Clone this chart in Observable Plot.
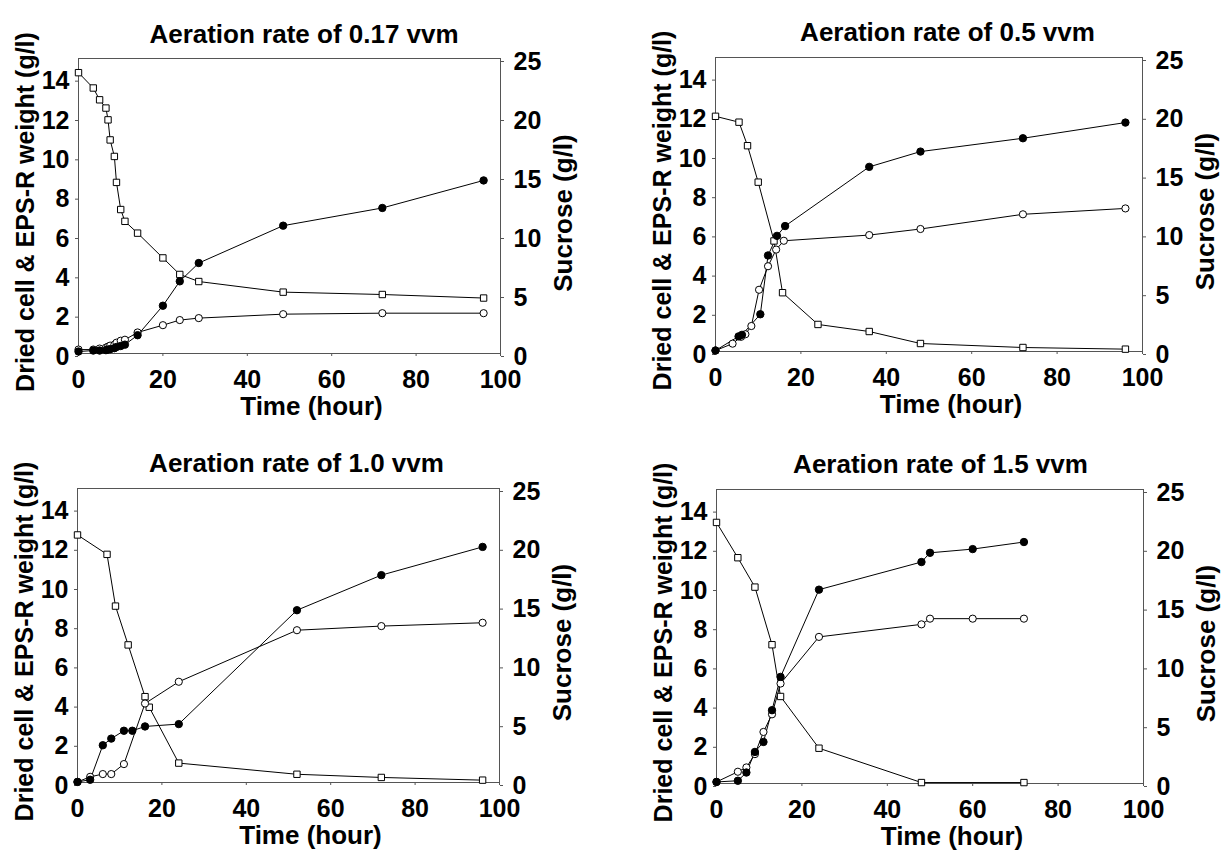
<!DOCTYPE html>
<html>
<head>
<meta charset="utf-8">
<script src="https://cdn.jsdelivr.net/npm/d3@7"></script>
<script src="https://cdn.jsdelivr.net/npm/@observablehq/plot@0.6"></script>
<style>
  html, body { margin: 0; padding: 0; background: #fff; }
  #root { position: relative; width: 1231px; height: 854px; background: #fff; overflow: hidden; }
  .panel { position: absolute; }
</style>
</head>
<body>
<div id="root"></div>
<script>
// ---- Tick labels / axis ranges ----
const xTicks = [0, 20, 40, 60, 80, 100];
const leftTicks = [0, 2, 4, 6, 8, 10, 12, 14];
const rightTicks = [0, 5, 10, 15, 20, 25];
const leftMax = 15;
const rightMax = 25;

const titles = ["Aeration rate of 0.17 vvm", "Aeration rate of 0.5 vvm", "Aeration rate of 1.0 vvm", "Aeration rate of 1.5 vvm"];
const xLabel = "Time (hour)";
const yLeftLabel = "Dried cell & EPS-R weight (g/l)";
const yRightLabel = "Sucrose (g/l)";

// ---- Panel 1: 0.17 vvm ----
const p1Time = [0, 3.5, 5, 6.5, 7, 7.5, 8.5, 9, 10, 11, 14, 20, 24, 28.5, 48.5, 72, 96];
const p1Sucrose = [23.8, 22.5, 21.5, 20.8, 19.8, 18.1, 16.7, 14.5, 12.2, 11.2, 10.2, 8.1, 6.7, 6.1, 5.2, 5.0, 4.7];
const p1Cell = [0.1, 0.15, 0.15, 0.17, 0.2, 0.22, 0.27, 0.33, 0.38, 0.45, 0.93, 2.43, 3.67, 4.6, 6.5, 7.4, 8.8];
const p1Eps = [0.2, 0.2, 0.25, 0.3, 0.35, 0.4, 0.45, 0.55, 0.65, 0.7, 1.07, 1.44, 1.7, 1.8, 2.0, 2.05, 2.05];

// ---- Panel 2: 0.5 vvm ----
const p2SucroseTime = [0, 5.5, 7.5, 10, 13.7, 15.7, 24, 36, 48, 72, 96];
const p2Sucrose = [20.0, 19.5, 17.5, 14.4, 9.4, 5.0, 2.3, 1.7, 0.68, 0.34, 0.2];
const p2CellTime = [0, 5.4, 6.2, 10.5, 12.3, 14.4, 16.3, 36, 48, 72, 96];
const p2Cell = [0.05, 0.77, 0.85, 1.9, 4.9, 5.9, 6.4, 9.42, 10.2, 10.88, 11.68];
const p2EpsTime = [0, 4, 6, 7, 8.4, 10.2, 12.3, 14.2, 16, 36, 48, 72, 96];
const p2Eps = [0.05, 0.4, 0.75, 0.88, 1.3, 3.15, 4.35, 5.2, 5.65, 5.94, 6.25, 7.0, 7.3];

// ---- Panel 3: 1.0 vvm ----
const p3SucroseTime = [0, 7, 9, 12, 16, 17, 24, 52, 72, 96];
const p3Sucrose = [21.05, 19.4, 15.0, 11.7, 7.3, 6.4, 1.65, 0.7, 0.43, 0.2];
const p3CellTime = [0, 3, 6, 8, 11, 13, 16, 24, 52, 72, 96];
const p3Cell = [0.03, 0.14, 1.9, 2.24, 2.64, 2.64, 2.86, 2.98, 8.79, 10.58, 12.02];
const p3EpsTime = [0, 3, 6, 8, 11, 16, 24, 52, 72, 96];
const p3Eps = [0.03, 0.29, 0.43, 0.43, 0.94, 4.03, 5.14, 7.77, 7.98, 8.15];

// ---- Panel 4: 1.5 vvm ----
const p4SucroseTime = [0, 5, 9, 13, 15, 24, 48, 72];
const p4Sucrose = [22.2, 19.2, 16.7, 11.8, 7.4, 3.0, 0.08, 0.08];
const p4Time = [0, 5, 7, 9, 11, 13, 15, 24, 48, 50, 60, 72];
const p4Cell = [0.08, 0.14, 0.56, 1.61, 2.12, 3.74, 5.44, 9.89, 11.3, 11.77, 11.96, 12.32];
const p4Eps = [0.08, 0.6, 0.82, 1.5, 2.63, 3.53, 5.1, 7.48, 8.12, 8.41, 8.41, 8.41];

// ---- build tables ----
const zip = (t, v) => t.map((x, i) => ({t: x, v: v[i]}));
const panelsData = [
  {sucrose: zip(p1Time, p1Sucrose), cell: zip(p1Time, p1Cell), eps: zip(p1Time, p1Eps)},
  {sucrose: zip(p2SucroseTime, p2Sucrose), cell: zip(p2CellTime, p2Cell), eps: zip(p2EpsTime, p2Eps)},
  {sucrose: zip(p3SucroseTime, p3Sucrose), cell: zip(p3CellTime, p3Cell), eps: zip(p3EpsTime, p3Eps)},
  {sucrose: zip(p4SucroseTime, p4Sucrose), cell: zip(p4Time, p4Cell), eps: zip(p4Time, p4Eps)}
];

// ---- layout (positions only) ----
const layout = [
  {left: 0,   top: 0,   width: 615, ml: 78,  mr: 115, mt: 58, mb: 71, tdx: 14.5, tdy: -34},
  {left: 615, top: 0,   width: 616, ml: 100, mr: 89,  mt: 57, mb: 73, tdx: 18.5, tdy: -35},
  {left: 0,   top: 430, width: 615, ml: 77,  mr: 116, mt: 58, mb: 72, tdx: 8,    tdy: -34.5},
  {left: 615, top: 430, width: 616, ml: 101, mr: 88,  mt: 59, mb: 71, tdx: 10.5, tdy: -34.5}
];

const k = leftMax / rightMax;
const axisColor = "#555";
const font = "'Liberation Sans', Arial, Helvetica, sans-serif";
const labelSize = 26;

const root = document.getElementById("root");

panelsData.forEach((d, i) => {
  const L = layout[i];
  const chart = Plot.plot({
    width: L.width,
    height: 424,
    marginLeft: L.ml,
    marginRight: L.mr,
    marginTop: L.mt,
    marginBottom: L.mb,
    style: {fontFamily: font, fontSize: "25px", fontWeight: "bold", color: "black", background: "white", overflow: "visible"},
    x: {domain: [0, 100]},
    y: {domain: [0, leftMax]},
    marks: [
      Plot.frame({stroke: axisColor, strokeWidth: 1}),
      Plot.axisX(xTicks, {tickSize: 3, tickPadding: 14, stroke: axisColor, fill: "black", label: null}),
      Plot.axisY(leftTicks, {anchor: "left", tickSize: 3, tickPadding: 6, stroke: axisColor, fill: "black", dy: 3, label: null}),
      Plot.axisY(rightTicks.map(v => v * k), {anchor: "right", tickSize: 3, tickPadding: 10, stroke: axisColor, fill: "black", dy: 3, label: null, tickFormat: v => String(Math.round(v / k))}),
      Plot.line(d.sucrose, {x: "t", y: p => p.v * k, stroke: "black", strokeWidth: 1}),
      Plot.line(d.eps, {x: "t", y: "v", stroke: "black", strokeWidth: 1}),
      Plot.line(d.cell, {x: "t", y: "v", stroke: "black", strokeWidth: 1}),
      Plot.dot(d.sucrose, {x: "t", y: p => p.v * k, symbol: "square", r: 3.6, fill: "white", stroke: "black", strokeWidth: 1}),
      Plot.dot(d.eps, {x: "t", y: "v", r: 3.6, fill: "white", stroke: "black", strokeWidth: 1}),
      Plot.dot(d.cell, {x: "t", y: "v", r: 3.7, fill: "black", stroke: "black", strokeWidth: 1}),
      Plot.text([titles[i]], {text: s => s, frameAnchor: "top", textAnchor: "middle", dx: L.tdx, dy: L.tdy, fontSize: labelSize, fontWeight: "bold", fill: "black"}),
      Plot.text([yLeftLabel], {text: s => s, frameAnchor: "left", textAnchor: "middle", rotate: -90, dx: -53, dy: 6, fontSize: 25, fontWeight: "bold", fill: "black"}),
      Plot.text([yRightLabel], {text: s => s, frameAnchor: "right", textAnchor: "middle", rotate: -90, dx: 63, dy: 7, fontSize: labelSize, fontWeight: "bold", fill: "black"}),
      Plot.text([xLabel], {text: s => s, frameAnchor: "bottom", textAnchor: "middle", lineAnchor: "top", dx: 22, dy: 43, fontSize: labelSize, fontWeight: "bold", fill: "black"})
    ]
  });
  const wrap = document.createElement("div");
  wrap.className = "panel";
  wrap.style.left = L.left + "px";
  wrap.style.top = L.top + "px";
  wrap.appendChild(chart);
  root.appendChild(wrap);
});
</script>
</body>
</html>
